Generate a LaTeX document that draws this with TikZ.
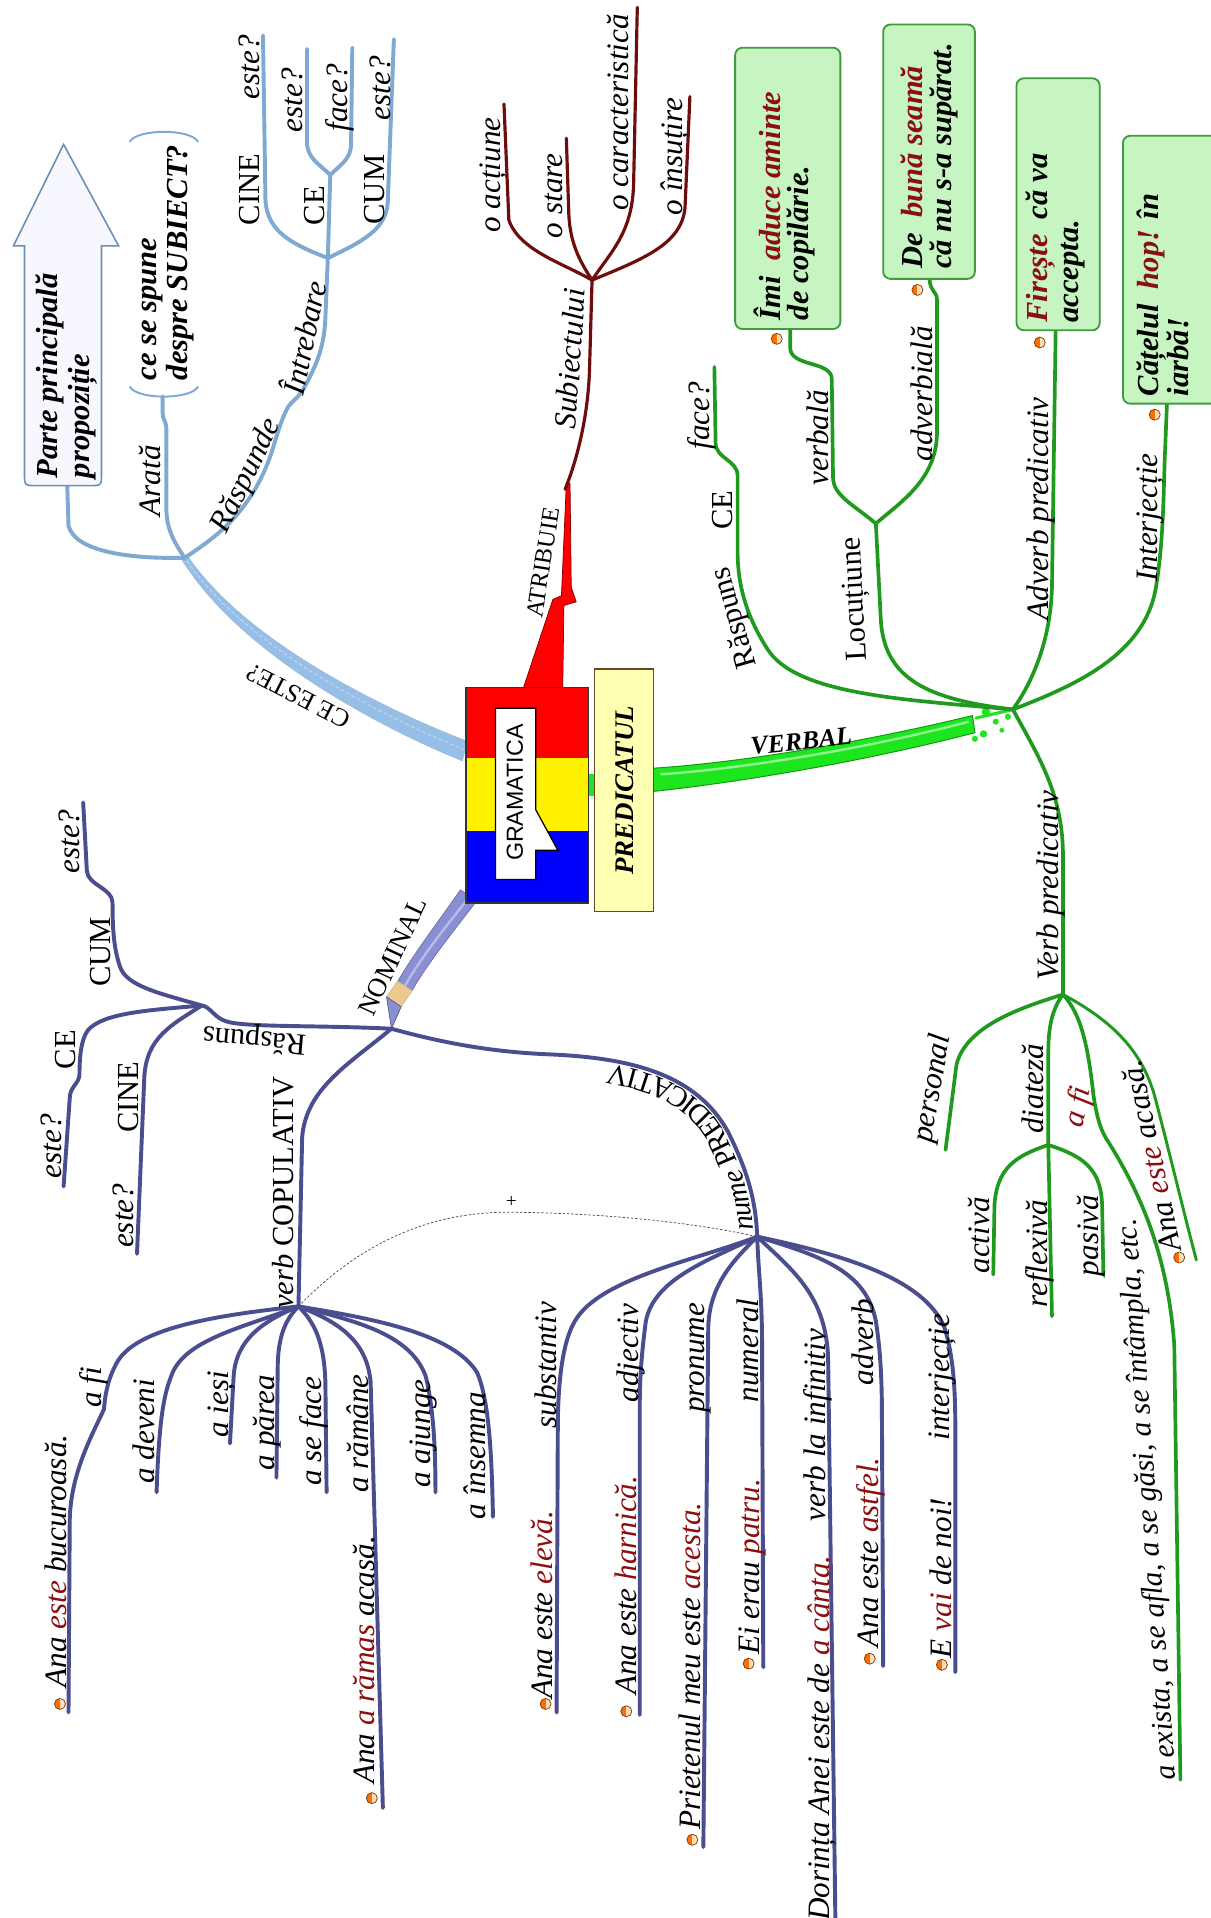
\documentclass[tikz,border=0pt]{standalone}
\usepackage{fontspec}
\setmainfont{Liberation Serif}
\newfontfamily\sansfam{Liberation Sans}
\usetikzlibrary{decorations.text}
\definecolor{bl}{HTML}{7FA9D3}
\definecolor{blbr}{HTML}{96BEE6}
\definecolor{brn}{HTML}{6E0D0D}
\definecolor{grn}{HTML}{1F9A1F}
\definecolor{vgr}{HTML}{1EE61E}
\definecolor{vgrd}{HTML}{0F9A0F}
\definecolor{prp}{HTML}{4A4E8E}
\definecolor{nom}{HTML}{8A8ED2}
\definecolor{dred}{HTML}{8B0F0F}
\definecolor{gfill}{HTML}{C6F5C2}
\definecolor{gbd}{HTML}{3E9B3E}
\definecolor{pfill}{HTML}{FFFFB4}
\definecolor{tan}{HTML}{EBC88C}
\newcommand{\lit}{\fontsize{25.5}{26}\selectfont\itshape}
\newcommand{\lup}{\fontsize{25}{26}\selectfont\upshape}
\newcommand{\lbi}{\fontsize{25}{26}\selectfont\bfseries\itshape}
\newcommand{\redw}[1]{\textcolor{dred}{#1}}
\tikzset{
  lab/.style={rotate=90, anchor=base, inner sep=0pt, font=\lit},
  labu/.style={rotate=90, anchor=base, inner sep=0pt, font=\lup},
  tl/.style={inner sep=0pt, font=\lit},
  tlu/.style={inner sep=0pt, font=\lup},
  bline/.style={rotate=90, anchor=base west, inner sep=0pt, font=\lbi},
  bul/.style={circle, minimum size=9pt, inner sep=0pt, draw=orange!50!black, line width=0.6pt, fill=orange!85!red,
    path picture={\fill[orange!25!white] (path picture bounding box.north) rectangle (path picture bounding box.south east);}},
  blu/.style={draw=bl, line width=3.2pt, line cap=round},
  brw/.style={draw=brn, line width=2.6pt, line cap=round},
  grl/.style={draw=grn, line width=3pt, line cap=round},
  pur/.style={draw=prp, line width=3.2pt, line cap=round},
  gbox/.style={draw=gbd, fill=gfill, line width=1.5pt, rounded corners=6pt},
}
\begin{document}
\begin{tikzpicture}[x=1pt,y=-1pt]
\useasboundingbox (0,0) rectangle (990,1568);
\fill[white] (0,0) rectangle (990,1568);

% junctions
\coordinate (J1) at (151,456);
\coordinate (J2) at (268,211);
\coordinate (J3) at (270,143);
\coordinate (Atip) at (462,400);
\coordinate (J4) at (484,229);
\coordinate (JV) at (828,580);
\coordinate (J5) at (716,428);
\coordinate (J6) at (869,813);
\coordinate (J7) at (857,936);
\coordinate (JN) at (320,841);
\coordinate (J8) at (165,822);
\coordinate (J9) at (244,1068);
\coordinate (J10) at (619,1011);
\coordinate (pbox) at (55,397);
\coordinate (brk) at (133,324);

% ---------- thick branches ----------
\fill[blbr, draw=bl!80, line width=0.4pt] (382,606) .. controls (322,583) and (202,527) .. (153,454) -- (149,458) .. controls (198,537) and (318,598) .. (378,622) -- cycle;
\draw[white!35!blbr, line width=1pt, dash pattern=on 3pt off 2pt] (380,613) .. controls (320,589) and (200,530) .. (J1);

\fill[nom, draw=prp!80, line width=0.6pt] (376.4,727.4) .. controls (359,752.8) and (339.3,778) .. (325.3,802) -- (336.7,810) .. controls (350.7,786) and (371,761) .. (389.6,736.6) -- cycle;
\draw[white!40!nom, line width=2pt] (384,733) .. controls (364,758) and (344,783) .. (331,806);
\fill[tan, draw=brown!60, line width=0.5pt] (325,802) -- (337,810) -- (328,823) -- (316,815) -- cycle;
\fill[nom, draw=prp, line width=0.5pt] (316,815) -- (328,823) -- (JN) -- cycle;

\fill[red, draw=red!50!black, line width=0.6pt] (427,565) -- (452,490) -- (459,487) -- (463,395) -- (466,395) -- (467,480) -- (471,492) -- (461,495) -- (460,565) -- cycle;

\fill[vgr, draw=vgrd, line width=0.8pt] (534,628) .. controls (600,624) and (700,608) .. (795,585) -- (797,599) .. controls (700,624) and (600,640) .. (534,647) -- cycle;
\draw[white!50!vgr, line width=2pt] (540,633) .. controls (600,629) and (700,614) .. (792,590);
\fill[vgr] (806,582) circle (3.5pt);
\fill[vgr] (814,590) circle (2.5pt);
\fill[vgr] (804,600) circle (3pt);
\fill[vgr] (819,597) circle (2pt);
\fill[vgr] (824,586) circle (2.5pt);
\fill[vgr] (797,604) circle (2.5pt);
\draw[vgr, line width=2.5pt, line cap=round] (798,587) -- (JV);
\fill[vgr] (481,633) rectangle (487,651);

% ---------- blue subtree ----------
\draw[blu] (J1) .. controls (110,457) and (62,452) .. (56,430) -- (pbox);
\draw[blu] (J1) .. controls (140,440) and (136,430) .. (136,415) -- (136,350) .. controls (136,345) and (133,343) .. (133,338) -- (brk);
\draw[blu] (J1) .. controls (175,440) and (205,420) .. (222,370) .. controls (228,350) and (232,338) .. (236,332) .. controls (240,327) and (244,325) .. (248,318) .. controls (258,300) and (265,285) .. (266,260) -- (J2);
\draw[blu] (J2) .. controls (240,200) and (218,190) .. (217,163) -- (215,29);
\draw[blu] (J2) -- (J3);
\draw[blu] (J3) .. controls (262,135) and (252,130) .. (251,118) -- (251,40);
\draw[blu] (J3) .. controls (278,135) and (287,130) .. (287,118) -- (288,39);
\draw[blu] (J2) .. controls (295,198) and (316,188) .. (317,165) -- (322,32);
\draw[bl, line width=1.6pt] (106,116) .. controls (112,105) and (156,105) .. (162,116);
\draw[bl, line width=1.6pt] (106,316) .. controls (112,327) and (156,327) .. (162,316);
\draw[fill=blue!3, draw=bl!85!black, line width=1.3pt] (52,118) -- (97,201) -- (83,201) -- (83,387) .. controls (83,397) .. (73,397) -- (30,397) .. controls (20,397) .. (20,387) -- (20,201) -- (11,201) -- cycle;

\node[bline] (tparte1) at (47,391) {Parte principală};
\node[bline] (tparte2) at (73,391) {propoziție};
\node[bline] (tce1) at (128,311) {ce se spune};
\node[bline] (tce2) at (153,311) {despre SUBIECT?};
\node[lab] (tArata) at (131,393) {Arată};
\node[tl, rotate=64] (tRaspunde) at (202,389) {Răspunde};
\node[tl, rotate=78] (tIntrebare) at (247,276) {Întrebare};
\node[labu] (tCINEb) at (212,155) {CINE};
\node[lab] (testeb1) at (212,55) {este?};
\node[labu] (tCEb) at (265,168) {CE};
\node[lab] (testeb2) at (247,82) {este?};
\node[lab] (tfaceb) at (284,80) {face?};
\node[labu] (tCUMb) at (314,155) {CUM};
\node[lab] (testeb3) at (319,72) {este?};
\node[tlu, rotate=153, font=\fontsize{21}{22}\selectfont] (tceeste) at (244,569) {CE ESTE?};

% ---------- brown subtree ----------
\draw[brw] (Atip) .. controls (472,375) and (481,340) .. (482,300) -- (J4);
\draw[brw] (J4) .. controls (460,215) and (425,205) .. (416,180) -- (412,85);
\draw[brw] (J4) .. controls (475,215) and (466,200) .. (465,175) -- (463,113);
\draw[brw] (J4) .. controls (500,205) and (517,190) .. (518,150) -- (521,6);
\draw[brw] (J4) .. controls (525,212) and (557,200) .. (560,170) -- (564,79);
\node[tl, rotate=86] (tsubj) at (466,293) {Subiectului};
\node[lab] (tact) at (409,143) {o acțiune};
\node[lab] (tstare) at (460,160) {o stare};
\node[lab] (tcar) at (514,92) {o caracteristică};
\node[lab] (tins) at (558,128) {o însuțire};
\node[tlu, rotate=81, font=\fontsize{20}{20}\selectfont] (tatrib) at (444,460) {ATRIBUIE};

% ---------- green subtree ----------
\draw[grl] (JV) .. controls (740,572) and (650,568) .. (627,530) .. controls (606,497) and (603,470) .. (603,450) -- (603,389) .. controls (603,376) and (585,375) .. (585,362) -- (584,300);
\draw[grl] (JV) .. controls (760,572) and (722,556) .. (720,505) -- (J5);
\draw[grl] (J5) .. controls (697,412) and (681,405) .. (681,390) -- (680,310) .. controls (680,295) and (647,300) .. (646,285) -- (646,269);
\draw[grl] (J5) .. controls (737,410) and (765,392) .. (766,355) -- (766,245) .. controls (766,238) and (760,238) .. (760,228);
\draw[grl] (JV) .. controls (846,555) and (859,520) .. (860,480) -- (863,270);
\draw[grl] (JV) .. controls (880,560) and (936,535) .. (945,480) .. controls (950,450) and (951,420) .. (952,380) -- (954,330);
\draw[grl] (JV) .. controls (850,620) and (869,650) .. (869,700) -- (J6);
\draw[grl] (J6) .. controls (830,825) and (790,840) .. (782,870) -- (773,940);
\draw[grl] (J6) .. controls (860,825) and (857,840) .. (857,860) -- (J7);
\draw[grl] (J7) .. controls (830,945) and (815,955) .. (813,985) -- (812,1042);
\draw[grl] (J7) -- (860,1076);
\draw[grl] (J7) .. controls (885,945) and (900,955) .. (901,985) -- (902,1042);
\draw[grl] (J6) .. controls (885,830) and (890,860) .. (894,896) .. controls (897,915) and (900,925) .. (907,935) .. controls (935,980) and (955,1030) .. (960,1100) -- (965,1455);
\draw[grl, line width=2.4pt] (J6) .. controls (910,835) and (935,860) .. (945,900) .. controls (958,950) and (970,1000) .. (978,1030);

\draw[gbox] (601,39) rectangle (687,269);
\draw[gbox] (722,20) rectangle (797,228);
\draw[gbox] (831,64) rectangle (899,270);
\draw[gbox] (918,111) rectangle (1000,330);
\node[bline] (tb1a) at (638,262) {Îmi~ \redw{aduce aminte}};
\node[bline] (tb1b) at (661,262) {de copilărie.};
\node[bline] (tb2a) at (754,220) {De~ \redw{bună seamă}};
\node[bline] (tb2b) at (778,220) {că nu s-a supărat.};
\node[bline] (tb3a) at (856,264) {\redw{Firește}~ că va};
\node[bline] (tb3b) at (882,264) {accepta.};
\node[bline] (tb4a) at (947,324) {Cățelul~ \redw{hop!} în};
\node[bline] (tb4b) at (972,324) {iarbă!};
\node[bul] (bg1) at (635,277) {};
\node[bul] (bg2) at (750,237) {};
\node[bul] (bg3) at (850,280) {};
\node[bul] (bg4) at (944,339) {};

\node[tlu, rotate=106] (tRaspG) at (601,505) {Răspuns};
\node[labu] (tCEg) at (599,417) {CE};
\node[lab] (tfaceg) at (580,340) {face?};
\node[tlu, rotate=93] (tLoc) at (700,490) {Locuțiune};
\node[lab] (tverbala) at (677,358) {verbală};
\node[lab] (tadverbiala) at (762,322) {adverbială};
\node[lab] (tadvpred) at (857,416) {Adverb predicativ};
\node[lab] (tinterjG) at (946,423) {Interjecție};
\node[lab] (tverbpred) at (865,724) {Verb predicativ};
\node[tl, rotate=80] (tpers) at (763,890) {personal};
\node[lab] (tdiateza) at (853,890) {diateză};
\node[lab] (tactiva) at (809,1010) {activă};
\node[lab] (treflexiva) at (856,1025) {reflexivă};
\node[lab] (tpasiva) at (898,1010) {pasivă};
\node[tl, rotate=78, text=dred] (tafiG) at (882,905) {a fi};
\node[tl, rotate=94, font=\fontsize{24.5}{25}\selectfont\itshape] (texista) at (939,1226) {a exista, a se afla, a se găsi, a se întâmpla, etc.};
\node[tl, rotate=102] (tacasaG) at (941,945) {Ana \redw{este} acasă.};
\node[bul] (bg5) at (964,1028) {};

% ---------- purple subtree ----------
\draw[pur] (JN) .. controls (260,838) and (200,840) .. (185,835) .. controls (175,832) and (172,823) .. (J8);
\draw[pur] (J8) .. controls (130,812) and (103,806) .. (98,790) .. controls (93,775) and (92,760) .. (92,738) .. controls (92,726) and (72,724) .. (71,712) -- (68,656);
\draw[pur] (J8) .. controls (120,826) and (85,828) .. (72,842) .. controls (66,850) and (65,865) .. (65,878) .. controls (65,886) and (57,888) .. (57,898) -- (52,970);
\draw[pur] (J8) .. controls (140,838) and (120,848) .. (118,880) -- (112,1025);
\draw[pur] (JN) .. controls (285,870) and (250,890) .. (247,930) -- (J9);
\draw[pur] (JN) .. controls (360,852) and (400,860) .. (450,862) .. controls (520,865) and (570,880) .. (595,925) .. controls (610,955) and (618,980) .. (J10);

\draw[pur] (J9) .. controls (180,1075) and (110,1085) .. (95,1115) .. controls (88,1128) and (86,1140) .. (85,1152) .. controls (76,1172) and (57,1205) .. (57,1245) -- (56,1400);
\draw[pur] (J9) .. controls (200,1085) and (150,1095) .. (140,1125) .. controls (134,1140) and (130,1160) .. (128,1220);
\draw[pur] (J9) .. controls (215,1080) and (193,1095) .. (191,1125) -- (188,1180);
\draw[pur] (J9) .. controls (232,1080) and (227,1095) .. (227,1120) -- (226,1208);
\draw[pur] (J9) .. controls (256,1080) and (265,1095) .. (266,1130) -- (267,1220);
\draw[pur] (J9) .. controls (275,1080) and (300,1095) .. (303,1130) -- (313,1478);
\draw[pur] (J9) .. controls (290,1080) and (335,1090) .. (348,1125) .. controls (354,1150) and (356,1180) .. (356,1220);
\draw[pur] (J9) .. controls (305,1078) and (370,1090) .. (390,1122) .. controls (400,1145) and (402,1190) .. (403,1240);

\draw[pur] (J10) .. controls (570,1030) and (490,1045) .. (470,1080) .. controls (458,1100) and (456,1140) .. (456,1170) -- (455,1400);
\draw[pur] (J10) .. controls (580,1030) and (535,1045) .. (528,1080) .. controls (524,1110) and (523,1130) .. (523,1150) -- (523,1402);
\draw[pur] (J10) .. controls (600,1030) and (580,1050) .. (579,1085) -- (575,1510);
\draw[pur] (J10) .. controls (620,1040) and (623,1060) .. (623,1100) -- (624,1363);
\draw[pur] (J10) .. controls (650,1040) and (675,1060) .. (677,1110) -- (683,1575);
\draw[pur] (J10) .. controls (668,1026) and (708,1038) .. (716,1080) .. controls (720,1105) and (721,1130) .. (721,1160) -- (722,1362);
\draw[pur] (J10) .. controls (690,1026) and (755,1045) .. (772,1085) .. controls (780,1110) and (781,1140) .. (781,1170) -- (781,1367);

\draw[gray!60!black, line width=0.6pt, dash pattern=on 2pt off 1.5pt] (J9) .. controls (300,1010) and (360,990) .. (420,991) .. controls (500,992) and (570,1000) .. (J10);
\node[inner sep=0pt, font=\fontsize{16}{16}\selectfont] (plus) at (418,983) {+};

\node[tlu, rotate=175] (tRaspP) at (208,849) {Răspuns};
\node[labu] (tCUMp) at (90,778) {CUM};
\node[lab] (testep1) at (65,688) {este?};
\node[labu] (tCEp) at (62,858) {CE};
\node[lab] (testep2) at (50,937) {este?};
\node[labu] (tCINEp) at (113,897) {CINE};
\node[lab] (testep3) at (109,994) {este?};
\node[tlu, rotate=65, font=\fontsize{22}{22}\selectfont] (tnominal) at (321,782) {NOMINAL};
\node[labu] (tcopul) at (240,975) {{\itshape verb} COPULATIV};

\node[lab] (tafiP) at (83,1134) {a fi};
\node[lab] (tbucur) at (54,1276) {Ana \redw{este} bucuroasă.};
\node[bul] (bp1) at (49,1393) {};
\node[lab] (tdeveni) at (126,1170) {a deveni};
\node[lab] (tiesi) at (187,1148) {a ieși};
\node[lab] (tparea) at (224,1163) {a părea};
\node[lab] (tseface) at (263,1170) {a se face};
\node[lab] (tramane) at (301,1172) {a rămâne};
\node[lab] (tramas) at (306,1357) {Ana \redw{a rămas} acasă.};
\node[bul] (bp2) at (304,1470) {};
\node[lab] (tajunge) at (352,1172) {a ajunge};
\node[lab] (tinsemna) at (397,1190) {a însemna};

\node[lab] (tsubst) at (455,1116) {substantiv};
\node[lab] (televa) at (452,1312) {Ana este \redw{elevă.}};
\node[bul] (bp3) at (446,1393) {};
\node[lab] (tadj) at (522,1106) {adjectiv};
\node[lab] (tharnica) at (520,1296) {Ana este \redw{harnică.}};
\node[bul] (bp4) at (512,1399) {};
\node[lab] (tpron) at (576,1110) {pronume};
\node[lab] (tacesta) at (573,1362) {Prietenul meu este \redw{acesta.}};
\node[bul] (bp5) at (566,1504) {};
\node[lab] (tnum) at (620,1104) {numeral};
\node[lab] (tpatru) at (621,1281) {Ei erau \redw{patru.}};
\node[bul] (bp6) at (612,1360) {};
\node[lab] (tinf) at (675,1165) {verb la infinitiv};
\node[lab] (tcanta) at (678,1421) {Dorința Anei este de \redw{a cânta.}};
\node[lab] (tadv) at (714,1097) {adverb};
\node[lab] (tastfel) at (718,1269) {Ana este \redw{astfel.}};
\node[bul] (bp7) at (711,1356) {};
\node[lab] (tinterjP) at (776,1126) {interjecție};
\node[lab] (tvai) at (778,1290) {E \redw{vai} de noi!};
\node[bul] (bp8) at (770,1361) {};

\path[decorate, decoration={text along path, raise=3pt, text align={left indent=6pt},
  text={|\fontsize{24}{24}\selectfont\itshape|nume |\fontsize{24}{24}\selectfont\upshape|PREDICATIV}}]
  (J10) .. controls (618,980) and (610,955) .. (595,925) .. controls (570,880) and (520,865) .. (440,861);

% ---------- center ----------
\fill[red] (381,562) rectangle (481,620);
\fill[yellow] (381,620) rectangle (481,679);
\fill[blue] (381,679) rectangle (481,738);
\draw[black!80, line width=1.3pt] (381,562) rectangle (481,738);
\draw[fill=white, draw=black, line width=1pt] (405,579) -- (438,579) -- (438,662) -- (456,695) -- (438,695) -- (438,719) -- (405,719) -- cycle;
\node[rotate=90, inner sep=0pt, font=\sansfam\fontsize{19}{20}\selectfont] (tgram) at (421,648) {GRAMATICA};
\draw[fill=pfill, draw=black!45!brown, line width=1pt] (486,547) rectangle (534,745);
\node[rotate=90, inner sep=0pt, font=\fontsize{22}{22}\selectfont\bfseries\itshape] (tpred) at (511,646) {PREDICATUL};
\node[rotate=6, inner sep=0pt, font=\fontsize{21}{22}\selectfont\bfseries\itshape] (tverbal) at (655,606) {VERBAL};
\end{tikzpicture}
\end{document}
